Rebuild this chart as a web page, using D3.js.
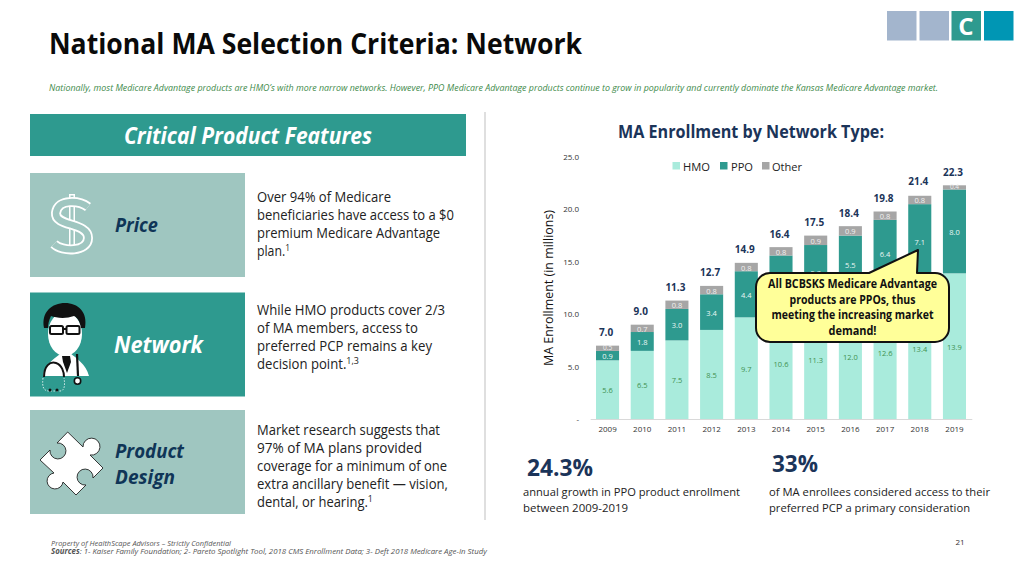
<!DOCTYPE html>
<html><head><meta charset="utf-8">
<script src="https://cdn.jsdelivr.net/npm/d3@7/dist/d3.min.js"></script>
<style>
html,body{margin:0;padding:0;background:#fff;overflow:hidden}
svg{display:block}
text{font-family:"Open Sans",Lato,sans-serif}
</style></head><body>
<svg id="c" width="1024" height="576"></svg>
<script>
const years=["2009","2010","2011","2012","2013","2014","2015","2016","2017","2018","2019"];
const hmo=[5.6,6.5,7.5,8.5,9.7,10.6,11.3,12.0,12.6,13.4,13.9];
const ppo=[0.9,1.8,3.0,3.4,4.4,5.0,5.3,5.5,6.4,7.1,8.0];
const other=[0.5,0.7,0.8,0.8,0.8,0.8,0.9,0.9,0.8,0.8,0.4];
const totals=[7.0,9.0,11.3,12.7,14.9,16.4,17.5,18.4,19.8,21.4,22.3];
const seriesNames=["HMO","PPO","Other"];
const yTicks=[0,5,10,15,20,25];

const TEAL="#2E9A8F",MINT="#A9EBDC",GREY="#A6A6A6",NAVY="#1B3459",PALE="#9FC6C0",DARK="#0F3557";
const colors=d3.scaleOrdinal().domain(seriesNames).range([MINT,TEAL,GREY]);
const svg=d3.select("#c");

function T(x,y,s,o={}){
  const t=svg.append("text").attr("x",x).attr("y",y).attr("font-size",o.size||12)
    .attr("fill",o.fill||"#111").attr("font-weight",o.bold?700:400)
    .attr("font-style",o.italic?"italic":"normal").attr("text-anchor",o.anchor||"start");
  if(o.w) t.attr("textLength",o.w).attr("lengthAdjust","spacingAndGlyphs");
  if(Array.isArray(s)) s.forEach(p=>{
    const ts=t.append("tspan").text(p.t);
    if(p.sup) ts.attr("dy",-5).attr("font-size",(o.size||12)*0.68);
    if(p.bold) ts.attr("font-weight",700);
  }); else t.text(s);
  if(o.fit){
    const k=o.fit/t.node().getComputedTextLength();
    t.attr("x",0).attr("y",0).attr("transform",`translate(${x},${y}) scale(${k},1)`);
  }
  return t;
}

// header
[[887,"#A3B5CD"],[919.5,"#A3B5CD"],[951.5,TEAL],[984,"#0096B4"]].forEach(d=>{
  svg.append("rect").attr("x",d[0]).attr("y",11).attr("width",29.5).attr("height",29.5).attr("fill",d[1]);
});
T(966,35,"C",{size:24,bold:true,fill:"#fff",anchor:"middle"});
T(49,54,"National MA Selection Criteria: Network",{size:29,bold:true,fill:"#0A0A0A",w:533});
T(49,91,"Nationally, most Medicare Advantage products are HMO’s with more narrow networks. However, PPO Medicare Advantage products continue to grow in popularity and currently dominate the Kansas Medicare Advantage market.",{size:9.3,italic:true,fill:"#3E8A4A",w:889});

// left column
svg.append("rect").attr("x",30).attr("y",114).attr("width",436).attr("height",42).attr("fill",TEAL);
T(124,144,"Critical Product Features",{size:23,bold:true,italic:true,fill:"#fff",w:248});
svg.append("line").attr("x1",485).attr("x2",485).attr("y1",112).attr("y2",520).attr("stroke","#BFBFBF");
[[173,PALE],[292.5,TEAL],[410,PALE]].forEach(d=>{
  svg.append("rect").attr("x",30).attr("y",d[0]).attr("width",215).attr("height",104).attr("fill",d[1]);
});
T(115,232,"Price",{size:19,bold:true,italic:true,fill:DARK,w:43});
T(114,353,"Network",{size:23,bold:true,italic:true,fill:"#fff",w:89});
T(115,458,"Product",{size:20,bold:true,italic:true,fill:DARK,w:69});
T(115,484,"Design",{size:20,bold:true,italic:true,fill:DARK,w:60});

const body={size:14,fill:"#222"};
[[202,"Over 94% of Medicare",134],[220,"beneficiaries have access to a $0",197],[238,"premium Medicare Advantage",183]].forEach(d=>T(257,d[0],d[1],{...body,w:d[2]}));
T(257,256,[{t:"plan."},{t:"1",sup:true}],{...body,fit:33});
[[315,"While HMO products cover 2/3",188],[333,"of MA members, access to",161],[351,"preferred PCP remains a key",175]].forEach(d=>T(257,d[0],d[1],{...body,w:d[2]}));
T(257,369,[{t:"decision point."},{t:"1,3",sup:true}],{...body,fit:102});
[[435,"Market research suggests that",183],[453,"97% of MA plans provided",165],[471,"coverage for a minimum of one",190],[489,"extra ancillary benefit — vision,",191]].forEach(d=>T(257,d[0],d[1],{...body,w:d[2]}));
T(257,507,[{t:"dental, or hearing."},{t:"1",sup:true}],{...body,fit:116});

// dollar icon
const dollar=svg.append("g").attr("fill","none");
const sPath="M88,207 C80,201 58,198 56,213 C55,227 88,222 88,238 C88,252 62,252 54,244";
dollar.append("line").attr("x1",72).attr("x2",72).attr("y1",194).attr("y2",254).attr("stroke","#fff").attr("stroke-width",6);
dollar.append("line").attr("x1",72).attr("x2",72).attr("y1",195.5).attr("y2",252.5).attr("stroke",PALE).attr("stroke-width",3);
dollar.append("path").attr("d",sPath).attr("stroke","#fff").attr("stroke-width",10);
dollar.append("path").attr("d",sPath).attr("stroke",PALE).attr("stroke-width",6.4);

// doctor icon
const doc=svg.append("g");
doc.append("path").attr("d","M43,376 C44,364 56,358 61,353 L70,353 C76,358 86,364 89,376 Z").attr("fill","#fff");
doc.append("path").attr("d","M62,356 L70,356 L71,362 L67,373 L63,362 Z").attr("fill","#111");
doc.append("ellipse").attr("cx",65).attr("cy",334).attr("rx",17).attr("ry",22).attr("fill","#fff");
doc.append("path").attr("d","M44,328 C41,312 52,303 65,303 C78,303 88,312 85,328 L81,328 C80,322 78,318 74,316 C66,319 56,318 51,316 C49,320 48,324 48,328 Z").attr("fill","#111");
doc.append("rect").attr("x",50).attr("y",326).attr("width",13).attr("height",8).attr("rx",1.5).attr("fill","#fff").attr("stroke","#111").attr("stroke-width",2);
doc.append("rect").attr("x",66.5).attr("y",326).attr("width",13).attr("height",8).attr("rx",1.5).attr("fill","#fff").attr("stroke","#111").attr("stroke-width",2);
doc.append("line").attr("x1",63).attr("x2",66.5).attr("y1",329).attr("y2",329).attr("stroke","#111").attr("stroke-width",2);
doc.append("path").attr("d","M44,377 C44,366 50,361 56,363 C62,365 64,372 64,377").attr("fill","none").attr("stroke","#111").attr("stroke-width",2);
doc.append("path").attr("d","M77,354 L78,376").attr("stroke","#111").attr("stroke-width",2.2);
doc.append("circle").attr("cx",77.5).attr("cy",381).attr("r",3.2).attr("fill","#fff").attr("stroke","#111").attr("stroke-width",1.6);
doc.append("path").attr("d","M43,378 C42,386 43,391 49,391 L60,391 C65,391 65,384 64,378").attr("fill","none").attr("stroke","#fff").attr("stroke-width",0.8).attr("stroke-dasharray","1.5 1.5");
doc.append("circle").attr("cx",50).attr("cy",390).attr("r",1.5).attr("fill","#111");
doc.append("circle").attr("cx",57).attr("cy",390).attr("r",1.5).attr("fill","#111");

// puzzle icon
svg.append("path").attr("d","M67.7,432 L83,447 A8.5,8.5 0 1 1 90,455 L103,468 L93,478 A8,8 0 1 0 86,485 L76,495 L63,482 A8,8 0 1 1 54,473 L40,460 L50,450 A8,8 0 1 0 57,443 Z")
  .attr("fill","#fff").attr("stroke","#222").attr("stroke-width",0.9).attr("stroke-linejoin","round");

// chart
T(751,138,"MA Enrollment by Network Type:",{size:17.5,bold:true,fill:NAVY,anchor:"middle",w:266});
const x=d3.scaleBand().domain(years).range([590.2,971.8]).paddingInner(0.335).paddingOuter(0.1675);
const y=d3.scaleLinear().domain([0,25]).range([419,157]);
const rows=years.map((yr,i)=>({year:yr,HMO:hmo[i],PPO:ppo[i],Other:other[i],total:totals[i]}));
const stacked=d3.stack().keys(seriesNames)(rows);

const gy=svg.append("g").attr("transform","translate(579,0)")
  .call(d3.axisLeft(y).tickValues(yTicks).tickSize(0).tickPadding(0).tickFormat(d=>d===0?"-":d.toFixed(1)));
gy.select(".domain").remove();
gy.selectAll("text").attr("font-size",8).attr("fill","#333").style("font-family","'Open Sans',sans-serif");
const gx=svg.append("g").attr("transform","translate(0,419)")
  .call(d3.axisBottom(x).tickSize(0).tickPadding(7));
gx.select(".domain").attr("stroke","#D9D9D9");
gx.selectAll("text").attr("font-size",8).attr("fill","#333").style("font-family","'Open Sans',sans-serif");
T(0,0,"MA Enrollment (in millions)",{size:13,fill:"#111",anchor:"middle",w:156}).attr("x",null).attr("y",null).attr("transform","translate(553,288) rotate(-90)");

const layers=svg.append("g").selectAll("g").data(stacked).join("g").attr("fill",d=>colors(d.key));
layers.selectAll("rect").data(d=>d).join("rect")
  .attr("x",d=>x(d.data.year)).attr("width",x.bandwidth())
  .attr("y",d=>y(d[1])).attr("height",d=>y(d[0])-y(d[1]));
const lab=svg.append("g").selectAll("g").data(stacked).join("g")
  .attr("fill",d=>d.key==="HMO"?"#3F9150":(d.key==="PPO"?"#EAF7F4":"#F0F0F0"));
// the 2014 PPO label sits fully under the callout in the reference, so it is not drawn
lab.selectAll("text").data(d=>d.map(v=>({v,key:d.key})).filter(e=>!(e.key==="PPO"&&e.v.data.year==="2014"))).join("text")
  .attr("x",d=>x(d.v.data.year)+x.bandwidth()/2)
  .attr("y",d=>{const m=(y(d.v[0])+y(d.v[1]))/2;return d.v.data[d.key]<0.6?m+1.5:m+3.5;})
  .attr("text-anchor","middle").attr("font-size",d=>d.v.data[d.key]<0.6?6.5:7.5)
  .text(d=>d.v.data[d.key].toFixed(1));
svg.append("g").selectAll("text").data(rows).join("text")
  .attr("x",d=>x(d.year)+x.bandwidth()/2-1.5)
  .attr("y",d=>y(d.total)-9.5)
  .attr("text-anchor","middle").attr("font-size",10).attr("font-weight",700).attr("fill",NAVY)
  .text(d=>d.total.toFixed(1));

// legend
[[672.5,683,"HMO",27],[720,731,"PPO",22],[762,772,"Other",30]].forEach(d=>{
  svg.append("rect").attr("x",d[0]).attr("y",162).attr("width",7.5).attr("height",7.5).attr("fill",colors(d[2]));
  T(d[1],170.5,d[2],{size:11.5,fill:"#222",w:d[3]});
});

// callout
svg.append("path").attr("d","M772,273 L869,273 L918,250 L917,273 L935,273 A14,14 0 0 1 949,287 L949,328 A14,14 0 0 1 935,342 L770,342 A14,14 0 0 1 756,328 L756,287 A14,14 0 0 1 770,273 Z")
  .attr("fill","#FFFF99").attr("stroke","#111").attr("stroke-width",2).attr("stroke-linejoin","round");
[[288,"All BCBSKS Medicare Advantage",169],[304,"products are PPOs, thus",126],[319,"meeting the increasing market",162],[335,"demand!",48]].forEach(d=>
  T(852.5,d[0],d[1],{size:11.5,bold:true,fill:"#111",anchor:"middle",w:d[2]}));

// bottom stats
T(527,476,"24.3%",{size:23,bold:true,fill:NAVY,w:66});
T(772,472,"33%",{size:23,bold:true,fill:NAVY,w:46});
[[523,496,"annual growth in PPO product enrollment",217],[523,512,"between 2009-2019",105],[769,496,"of MA enrollees considered access to their",221],[769,512,"preferred PCP a primary consideration",201]].forEach(d=>
  T(d[0],d[1],d[2],{size:11.5,fill:"#222",w:d[3]}));

// footer
T(51,545.5,"Property of HealthScape Advisors – Strictly Confidential",{size:8,italic:true,fill:"#555",w:180});
T(51,554,[{t:"Sources",bold:true},{t:": 1- Kaiser Family Foundation; 2- Pareto Spotlight Tool, 2018 CMS Enrollment Data; 3- Deft 2018 Medicare Age-In Study"}],{size:8,italic:true,fill:"#555",fit:437});
T(960,545,"21",{size:8,fill:"#333",anchor:"middle"});
</script>
</body></html>
